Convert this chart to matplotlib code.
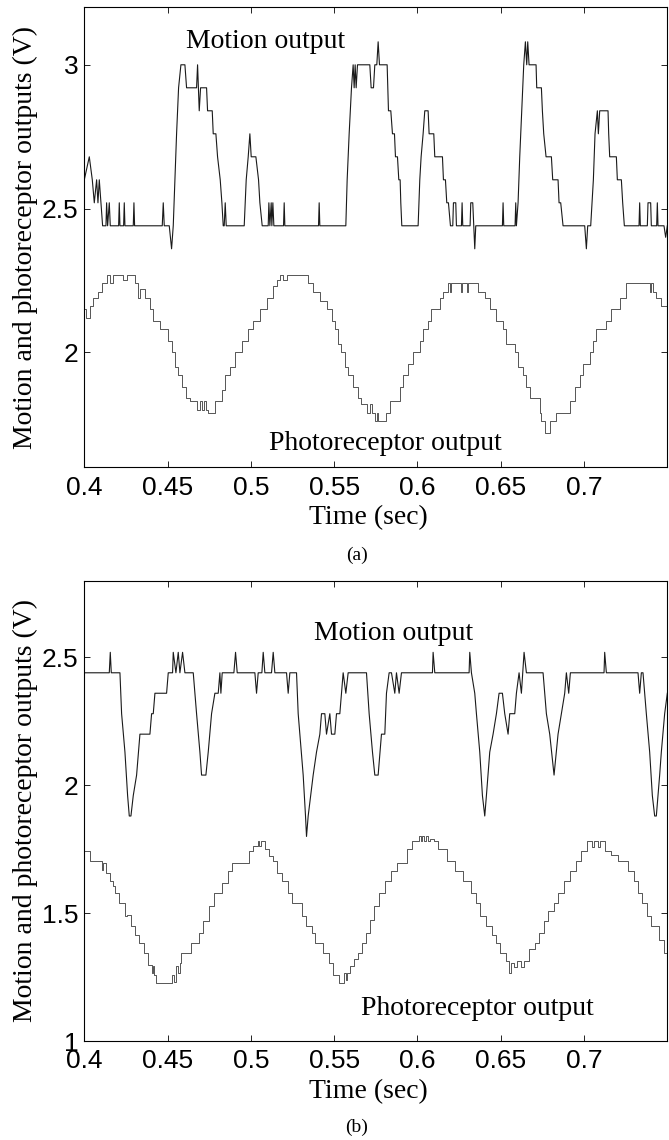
import matplotlib.pyplot as plt
import numpy as np

# ---- data (time in s, voltage in V) ----
# (a) motion output
a_motion_t = [.4000, .4030, .4048, .4060, .4074, .4082, .4090, .4100, .4110,
              .4130, .4134, .4140, .4150, .4156,
              .4206, .4210, .4214, .4236, .4240, .4244, .4294, .4298, .4302,
              .4468, .4474, .4480,
              .4510, .4524, .4534, .4544, .4554, .4566, .4580,
              .4604, .4614, .4674, .4680, .4690, .4698, .4734, .4740, .4768, .4774, .4790,
              .4800, .4816, .4826, .4834, .4840, .4846, .4852,
              .4960, .4972, .4984, .4994, .5002, .5030, .5046, .5054, .5068,
              .5104, .5108, .5114, .5122, .5126, .5132, .5138, .5196, .5200, .5204,
              .5406, .5410, .5414,
              .5570, .5578, .5590, .5604, .5614, .5620, .5626, .5632, .5640, .5714,
              .5722, .5736, .5744, .5756, .5764, .5772, .5818, .5826, .5840, .5850,
              .5862, .5868, .5880, .5888, .5896, .5900, .5906,
              .6004, .6014, .6022, .6034, .6044, .6064, .6070, .6098, .6104, .6150,
              .6156, .6168, .6176, .6186, .6198,
              .6212, .6216, .6230, .6234, .6264, .6268, .6272, .6316, .6320, .6332,
              .6338, .6344, .6350,
              .6510, .6514, .6518, .6586, .6590, .6594,
              .6604, .6614, .6626, .6638, .6648, .6656, .6662, .6670, .6712, .6716,
              .6744, .6750, .6758, .6772, .6804, .6812, .6844, .6850, .6860, .6874,
              .7004, .7014, .7022, .7040, .7056, .7066, .7080, .7086, .7094, .7144,
              .7148, .7154, .7194, .7200, .7224, .7232, .7242,
              .7330, .7334, .7338, .7380, .7384, .7400, .7404, .7436, .7440, .7444,
              .7480, .7490, .7500]
a_motion_v = [2.60, 2.68, 2.60, 2.52, 2.60, 2.52, 2.60, 2.52, 2.44,
              2.44, 2.52, 2.44, 2.52, 2.44,
              2.44, 2.52, 2.44, 2.44, 2.52, 2.44, 2.44, 2.52, 2.44,
              2.44, 2.52, 2.44,
              2.44, 2.36, 2.44, 2.60, 2.76, 2.92, 3.00,
              3.00, 2.92, 2.92, 3.00, 2.84, 2.92, 2.92, 2.84, 2.84, 2.76, 2.76,
              2.68, 2.60, 2.52, 2.44, 2.44, 2.52, 2.44,
              2.44, 2.60, 2.68, 2.76, 2.68, 2.68, 2.60, 2.52, 2.44,
              2.44, 2.52, 2.44, 2.52, 2.44, 2.52, 2.44, 2.44, 2.52, 2.44,
              2.44, 2.52, 2.44,
              2.44, 2.60, 2.76, 2.92, 3.00, 2.92, 3.00, 2.92, 3.00, 3.00,
              2.92, 2.92, 3.00, 3.00, 3.08, 3.00, 3.00, 2.84, 2.84, 2.76,
              2.76, 2.68, 2.68, 2.60, 2.60, 2.52, 2.44,
              2.44, 2.60, 2.68, 2.76, 2.84, 2.84, 2.76, 2.76, 2.68, 2.68,
              2.60, 2.60, 2.52, 2.52, 2.44,
              2.44, 2.52, 2.52, 2.44, 2.44, 2.52, 2.44, 2.44, 2.52, 2.52,
              2.44, 2.36, 2.44,
              2.44, 2.52, 2.44, 2.44, 2.52, 2.44,
              2.52, 2.68, 2.84, 3.00, 3.08, 3.00, 3.08, 3.00, 3.00, 2.92,
              2.92, 2.84, 2.76, 2.68, 2.68, 2.60, 2.60, 2.52, 2.52, 2.44,
              2.44, 2.36, 2.44, 2.44, 2.60, 2.76, 2.84, 2.76, 2.84, 2.84,
              2.76, 2.68, 2.68, 2.60, 2.60, 2.52, 2.44,
              2.44, 2.52, 2.44, 2.44, 2.52, 2.52, 2.44, 2.44, 2.52, 2.44,
              2.44, 2.40, 2.44]

# (a) photoreceptor output (staircase: value holds until next time)
a_photo_t = [.4000, .4010, .4034, .4054, .4084, .4104, .4134, .4154, .4174, .4234,
             .4254, .4304, .4324, .4334, .4364, .4394, .4414, .4454, .4504, .4524,
             .4544, .4564, .4584, .4610, .4634, .4674, .4694, .4704, .4718, .4730,
             .4744, .4784, .4824, .4844, .4874, .4904, .4944, .4984, .5014, .5054,
             .5094, .5134, .5154, .5174, .5194, .5214, .5344, .5374, .5414, .5454,
             .5484, .5504, .5524, .5544, .5564, .5584, .5614, .5644, .5664, .5700,
             .5714, .5730, .5744, .5760, .5766, .5814, .5834, .5894, .5914, .5944,
             .5974, .6014, .6034, .6064, .6084, .6134, .6154, .6184, .6194, .6204,
             .6260, .6266, .6300, .6306, .6364, .6404, .6434, .6474, .6514, .6534,
             .6584, .6604, .6634, .6654, .6674, .6734, .6744, .6764, .6794, .6834,
             .6914, .6944, .6974, .6994, .7034, .7054, .7074, .7134, .7164, .7214,
             .7254, .7394, .7400, .7414, .7434, .7464, .7500]
a_photo_v = [2.15, 2.12, 2.16, 2.19, 2.21, 2.24, 2.27, 2.24, 2.27, 2.25,
             2.27, 2.24, 2.19, 2.22, 2.19, 2.15, 2.11, 2.08, 2.04, 2.00,
             1.95, 1.92, 1.88, 1.84, 1.83, 1.80, 1.83, 1.80, 1.83, 1.80,
             1.79, 1.83, 1.87, 1.92, 1.95, 2.00, 2.04, 2.08, 2.11, 2.15,
             2.19, 2.23, 2.25, 2.27, 2.25, 2.27, 2.24, 2.21, 2.18, 2.15,
             2.11, 2.08, 2.03, 2.00, 1.95, 1.92, 1.88, 1.84, 1.82, 1.79,
             1.82, 1.79, 1.76, 1.79, 1.76, 1.79, 1.83, 1.88, 1.92, 1.96,
             2.00, 2.04, 2.08, 2.11, 2.15, 2.19, 2.21, 2.24, 2.21, 2.24,
             2.21, 2.24, 2.21, 2.24, 2.21, 2.19, 2.15, 2.11, 2.08, 2.03,
             2.00, 1.95, 1.92, 1.88, 1.84, 1.79, 1.76, 1.72, 1.76, 1.79,
             1.83, 1.88, 1.92, 1.96, 2.00, 2.04, 2.08, 2.11, 2.15, 2.19,
             2.24, 2.21, 2.24, 2.21, 2.19, 2.16, 2.16]

# (b) motion output
b_motion_t = [.4000, .4150, .4156, .4162, .4214, .4224, .4244, .4260, .4270, .4280,
              .4294, .4314, .4334, .4394, .4404, .4414, .4424, .4494, .4504, .4530,
              .4534, .4550, .4564, .4574, .4590, .4604, .4654, .4664, .4674, .4694,
              .4704, .4730, .4744, .4764, .4784, .4804, .4814, .4820, .4828, .4898,
              .4908, .4918, .5024, .5034, .5044, .5066, .5074, .5084, .5124, .5134,
              .5144, .5214, .5224, .5234, .5274, .5284, .5294, .5314, .5328, .5334,
              .5344, .5374, .5394, .5414, .5424, .5444, .5454, .5474, .5484, .5504,
              .5514, .5534, .5544, .5554, .5570, .5584, .5694, .5710, .5730, .5744,
              .5764, .5784, .5804, .5814, .5830, .5844, .5864, .5874, .5890, .5904,
              .6090, .6094, .6104, .6310, .6314, .6324, .6344, .6354, .6374, .6390,
              .6404, .6414, .6434, .6454, .6474, .6490, .6510, .6524, .6544, .6554,
              .6584, .6594, .6610, .6624, .6640, .6654, .6754, .6774, .6794, .6820,
              .6844, .6864, .6884, .6894, .6908, .6918, .7120, .7124, .7134, .7324,
              .7334, .7344, .7354, .7374, .7394, .7410, .7424, .7434, .7454, .7464,
              .7484, .7500]
b_motion_v = [2.44, 2.44, 2.52, 2.44, 2.44, 2.28, 2.13, 1.96, 1.88, 1.88,
              1.96, 2.04, 2.20, 2.20, 2.28, 2.28, 2.36, 2.36, 2.44, 2.44,
              2.52, 2.44, 2.52, 2.44, 2.52, 2.44, 2.44, 2.36, 2.28, 2.13,
              2.04, 2.04, 2.13, 2.28, 2.36, 2.36, 2.44, 2.36, 2.44, 2.44,
              2.52, 2.44, 2.44, 2.36, 2.44, 2.44, 2.52, 2.44, 2.44, 2.52,
              2.44, 2.44, 2.36, 2.44, 2.44, 2.28, 2.20, 2.04, 1.88, 1.80,
              1.88, 2.04, 2.13, 2.20, 2.28, 2.28, 2.20, 2.28, 2.20, 2.20,
              2.28, 2.28, 2.36, 2.44, 2.36, 2.44, 2.44, 2.28, 2.13, 2.04,
              2.04, 2.20, 2.20, 2.36, 2.44, 2.44, 2.36, 2.44, 2.36, 2.44,
              2.44, 2.52, 2.44, 2.44, 2.52, 2.44, 2.36, 2.28, 2.13, 1.96,
              1.88, 1.96, 2.13, 2.20, 2.28, 2.36, 2.36, 2.28, 2.20, 2.28,
              2.28, 2.36, 2.44, 2.36, 2.52, 2.44, 2.44, 2.28, 2.20, 2.04,
              2.20, 2.28, 2.36, 2.44, 2.36, 2.44, 2.44, 2.52, 2.44, 2.44,
              2.36, 2.44, 2.44, 2.28, 2.13, 1.96, 1.88, 1.88, 2.04, 2.13,
              2.28, 2.36]

# (b) photoreceptor output (staircase)
b_photo_t = [.4000, .4035, .4105, .4112, .4128, .4152, .4175, .4186, .4210, .4245,
             .4256, .4280, .4303, .4326, .4361, .4385, .4408, .4415, .4420, .4431,
             .4524, .4536, .4548, .4560, .4572, .4583, .4640, .4688, .4711, .4746,
             .4781, .4828, .4862, .4886, .4991, .5014, .5040, .5049, .5061, .5084,
             .5107, .5131, .5154, .5189, .5224, .5247, .5305, .5329, .5364, .5387,
             .5434, .5469, .5492, .5527, .5562, .5570, .5580, .5597, .5620, .5643,
             .5667, .5690, .5713, .5737, .5772, .5807, .5841, .5876, .5935, .5970,
             .6010, .6020, .6028, .6040, .6052, .6064, .6075, .6098, .6121, .6179,
             .6226, .6273, .6319, .6354, .6378, .6413, .6448, .6471, .6494, .6529,
             .6548, .6564, .6580, .6600, .6620, .6640, .6669, .6704, .6727, .6762,
             .6786, .6821, .6844, .6879, .6914, .6949, .6984, .7019, .7050, .7060,
             .7085, .7095, .7124, .7159, .7205, .7263, .7298, .7322, .7345, .7380,
             .7403, .7450, .7480, .7500]
b_photo_v = [1.742, 1.703, 1.670, 1.696, 1.657, 1.624, 1.605, 1.579, 1.540, 1.488,
             1.494, 1.449, 1.416, 1.384, 1.345, 1.299, 1.266, 1.292, 1.260, 1.227,
             1.260, 1.230, 1.292, 1.266, 1.306, 1.345, 1.384, 1.423, 1.468, 1.527,
             1.579, 1.618, 1.663, 1.696, 1.742, 1.762, 1.781, 1.762, 1.781, 1.749,
             1.723, 1.703, 1.657, 1.624, 1.579, 1.540, 1.488, 1.449, 1.423, 1.384,
             1.345, 1.306, 1.260, 1.227, 1.266, 1.240, 1.266, 1.292, 1.320, 1.345,
             1.384, 1.423, 1.475, 1.527, 1.579, 1.624, 1.663, 1.696, 1.749, 1.781,
             1.800, 1.781, 1.800, 1.781, 1.800, 1.781, 1.790, 1.781, 1.749, 1.703,
             1.663, 1.624, 1.579, 1.540, 1.488, 1.449, 1.416, 1.384, 1.345, 1.312,
             1.266, 1.306, 1.290, 1.312, 1.290, 1.312, 1.358, 1.384, 1.423, 1.468,
             1.507, 1.540, 1.579, 1.624, 1.663, 1.703, 1.742, 1.781, 1.760, 1.781,
             1.760, 1.781, 1.742, 1.729, 1.703, 1.663, 1.624, 1.579, 1.540, 1.488,
             1.449, 1.397, 1.345, 1.345]

x_ticks = [0.4, 0.45, 0.5, 0.55, 0.6, 0.65, 0.7]
x_ticklabels = ['0.4', '0.45', '0.5', '0.55', '0.6', '0.65', '0.7']
a_yticks = [2, 2.5, 3]
a_yticklabels = ['2', '2.5', '3']
b_yticks = [1, 1.5, 2, 2.5]
b_yticklabels = ['1', '1.5', '2', '2.5']

SANS = 'Liberation Sans'
SERIF = 'Liberation Serif'

fig = plt.figure(figsize=(6.69, 11.4), dpi=100)
ax_a = fig.add_axes([0.126, 0.5901, 0.8715, 0.4035])
ax_b = fig.add_axes([0.126, 0.0868, 0.8715, 0.4038])


def style(ax, yticks, yticklabels, ylim):
    ax.set_xlim(0.4, 0.75)
    ax.set_ylim(*ylim)
    ax.set_xticks(x_ticks)
    ax.set_xticklabels(x_ticklabels, fontfamily=SANS, fontsize=19)
    ax.set_yticks(yticks)
    ax.set_yticklabels(yticklabels, fontfamily=SANS, fontsize=19)
    ax.tick_params(direction='in', length=4, width=0.6, top=True, right=True)
    ax.tick_params(axis='x', pad=6)
    ax.tick_params(axis='y', pad=4)
    for s in ax.spines.values():
        s.set_linewidth(0.8)
    ax.set_xlabel('Time (sec)', fontfamily=SERIF, fontsize=20)
    ax.xaxis.set_label_coords(0.488, -0.083)
    ax.set_ylabel('Motion and photoreceptor outputs (V)', fontfamily=SERIF, fontsize=20)
    ax.yaxis.set_label_coords(-0.08, 0.5)


ax_a.plot(a_motion_t, a_motion_v, color='#1a1a1a', lw=0.8)
ax_a.plot(a_photo_t, a_photo_v, color='#555555', lw=0.7, drawstyle='steps-post')
style(ax_a, a_yticks, a_yticklabels, (1.6, 3.2))
ax_a.text(0.461, 3.06, 'Motion output', fontfamily=SERIF, fontsize=20)
ax_a.text(0.511, 1.66, 'Photoreceptor output', fontfamily=SERIF, fontsize=20)

ax_b.plot(b_motion_t, b_motion_v, color='#1a1a1a', lw=0.8)
ax_b.plot(b_photo_t, b_photo_v, color='#555555', lw=0.7, drawstyle='steps-post')
style(ax_b, b_yticks, b_yticklabels, (1.0, 2.8))
ax_b.text(0.538, 2.568, 'Motion output', fontfamily=SERIF, fontsize=20)
ax_b.text(0.566, 1.103, 'Photoreceptor output', fontfamily=SERIF, fontsize=20)

fig.text(357 / 669, 1 - 555 / 1140, '(a)', fontfamily=SERIF, fontsize=14,
         ha='center', va='center')
fig.text(357 / 669, 1 - 1127 / 1140, '(b)', fontfamily=SERIF, fontsize=14,
         ha='center', va='center')

fig.savefig('out.png', dpi=100)
